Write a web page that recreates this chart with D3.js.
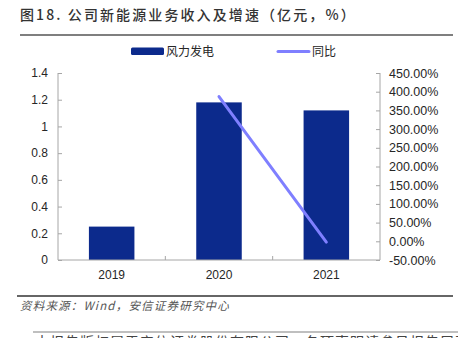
<!DOCTYPE html>
<html>
<head>
<meta charset="utf-8">
<script src="https://cdn.jsdelivr.net/npm/d3@7"></script>
<style>
  html, body { margin: 0; padding: 0; background: #fff; }
  svg { display: block; }
  text { font-family: "Liberation Sans", Arial, "Noto Sans CJK SC", sans-serif; }
  .cjk { font-family: "Noto Sans CJK SC", sans-serif; }
</style>
</head>
<body>
<svg id="chart" width="458" height="338"></svg>
<script>
// Wind power revenue (100M CNY) and year-over-year growth
const years = ["2019", "2020", "2021"];
const windRevenue = [0.25, 1.18, 1.12];
const yoyGrowth = [null, 3.87, -0.02];

const leftTicks = [0, 0.2, 0.4, 0.6, 0.8, 1, 1.2, 1.4];
const rightTicks = [-0.5, 0, 0.5, 1, 1.5, 2, 2.5, 3, 3.5, 4, 4.5];

const titleText = "图18. 公司新能源业务收入及增速（亿元，%）";
const sourceText = "资料来源：Wind，安信证券研究中心";
const footerText = "本报告版权属于安信证券股份有限公司，各项声明请参见报告尾页。";
const seriesNames = ["风力发电", "同比"];

const barColor = "#0c2a8c";
const lineColor = "#7f7fff";
const axisColor = "#a6a6a6";
const textColor = "#262626";

const svg = d3.select("#chart");

// Title and rule
svg.append("text")
  .attr("class", "cjk")
  .attr("x", 20).attr("y", 20)
  .attr("font-size", 14).attr("font-weight", 500)
  .attr("letter-spacing", 2.1)
  .attr("fill", "#333")
  .text(titleText);
svg.append("line")
  .attr("x1", 20).attr("x2", 453).attr("y1", 35).attr("y2", 35)
  .attr("stroke", "#555").attr("stroke-width", 1.5);

const plot = { left: 58, right: 380, top: 73, bottom: 260 };

const x = d3.scaleBand()
  .domain(years)
  .range([plot.left, plot.right])
  .paddingInner(0.576)
  .paddingOuter(0.288);

const yL = d3.scaleLinear().domain([0, 1.4]).range([plot.bottom, plot.top]);
const yR = d3.scaleLinear().domain([-0.5, 4.5]).range([plot.bottom, plot.top]);

// Bars
svg.append("g").selectAll("rect")
  .data(years.map((y, i) => ({ year: y, v: windRevenue[i] })))
  .join("rect")
  .attr("x", d => x(d.year))
  .attr("width", x.bandwidth())
  .attr("y", d => yL(d.v))
  .attr("height", d => yL(0) - yL(d.v))
  .attr("fill", barColor);

// Left axis
const leftAxis = svg.append("g")
  .attr("transform", `translate(${plot.left},0)`)
  .call(d3.axisLeft(yL).tickValues(leftTicks).tickSize(-4).tickPadding(10)
    .tickFormat(d => d3.format("~g")(d)));
leftAxis.select(".domain").attr("stroke", axisColor).attr("d", `M0,${plot.top}V${plot.bottom}`);
leftAxis.selectAll(".tick line").attr("stroke", axisColor);
leftAxis.selectAll("text").attr("font-size", 12).attr("fill", textColor);

// Right axis
const rightAxis = svg.append("g")
  .attr("transform", `translate(${plot.right},0)`)
  .call(d3.axisRight(yR).tickValues(rightTicks).tickSize(-4).tickPadding(9)
    .tickFormat(d => (d * 100).toFixed(2) + "%"));
rightAxis.select(".domain").attr("stroke", axisColor).attr("d", `M0,${plot.top}V${plot.bottom}`);
rightAxis.selectAll(".tick line").attr("stroke", axisColor);
rightAxis.selectAll("text").attr("font-size", 12.5).attr("fill", textColor);

// Category axis
const step = x.step();
const xAxis = svg.append("g")
  .attr("transform", `translate(0,${plot.bottom})`);
xAxis.append("line")
  .attr("x1", plot.left).attr("x2", plot.right)
  .attr("stroke", axisColor);
xAxis.selectAll("line.tk")
  .data(years.slice(1))
  .join("line").attr("class", "tk")
  .attr("x1", d => x(d) - x.paddingInner() * step / 2)
  .attr("x2", d => x(d) - x.paddingInner() * step / 2)
  .attr("y1", 0).attr("y2", -4)
  .attr("stroke", axisColor);
xAxis.selectAll("text")
  .data(years)
  .join("text")
  .attr("x", d => x(d) + x.bandwidth() / 2)
  .attr("y", 19)
  .attr("text-anchor", "middle")
  .attr("font-size", 12).attr("fill", textColor)
  .text(d => d);

// Growth line
const linePts = years.map((y, i) => ({ year: y, v: yoyGrowth[i] })).filter(d => d.v !== null);
svg.append("path")
  .datum(linePts)
  .attr("fill", "none")
  .attr("stroke", lineColor)
  .attr("stroke-width", 3)
  .attr("stroke-linecap", "round")
  .attr("d", d3.line().x(d => x(d.year) + x.bandwidth() / 2).y(d => yR(d.v)));

// Legend
const legend = svg.append("g");
legend.append("rect")
  .attr("x", 131).attr("y", 47.5).attr("width", 33).attr("height", 7.5)
  .attr("rx", 1.5).attr("fill", barColor);
legend.append("text")
  .attr("class", "cjk")
  .attr("x", 166).attr("y", 56)
  .attr("font-size", 12).attr("fill", textColor)
  .text(seriesNames[0]);
legend.append("line")
  .attr("x1", 278).attr("x2", 309).attr("y1", 51.5).attr("y2", 51.5)
  .attr("stroke", lineColor).attr("stroke-width", 3).attr("stroke-linecap", "round");
legend.append("text")
  .attr("class", "cjk")
  .attr("x", 312).attr("y", 56)
  .attr("font-size", 12).attr("fill", textColor)
  .text(seriesNames[1]);

// Source note
svg.append("line")
  .attr("x1", 17).attr("x2", 453).attr("y1", 296).attr("y2", 296)
  .attr("stroke", "#333").attr("stroke-width", 1.5);
svg.append("text")
  .attr("class", "cjk")
  .attr("x", 20).attr("y", 310)
  .attr("font-size", 11.5).attr("font-style", "italic")
  .attr("letter-spacing", 1.2)
  .attr("fill", "#555")
  .text(sourceText);

// Page footer, running off the bottom edge of the page
svg.append("line")
  .attr("x1", 33).attr("x2", 458).attr("y1", 332).attr("y2", 332)
  .attr("stroke", "#aaa").attr("stroke-width", 1.5);
svg.append("text")
  .attr("class", "cjk")
  .attr("x", 35).attr("y", 347)
  .attr("font-size", 14).attr("letter-spacing", 1)
  .attr("fill", "#444")
  .text(footerText);
</script>
</body>
</html>
